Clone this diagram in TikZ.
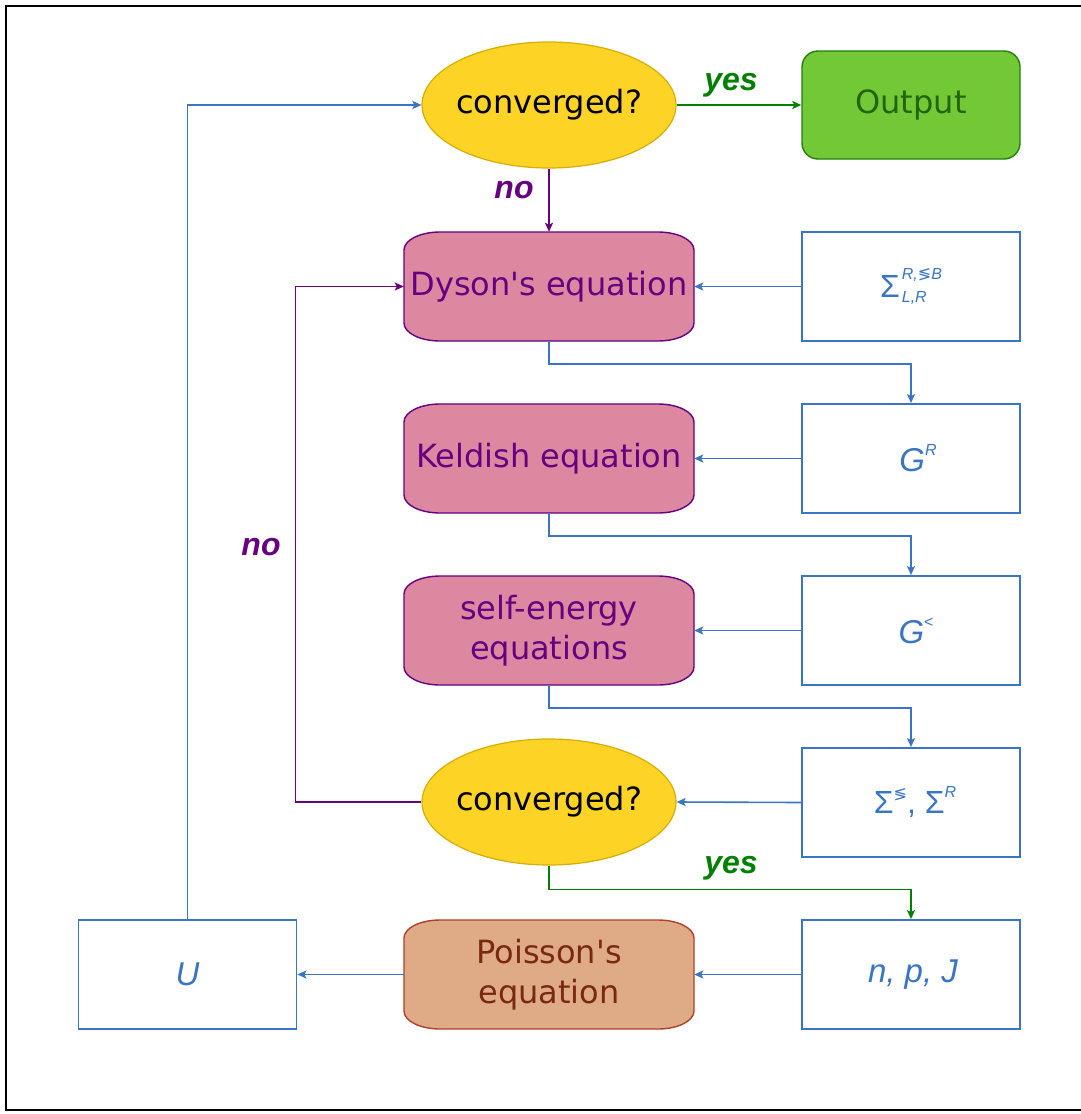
\documentclass[tikz,border=0pt]{standalone}
\usepackage{fontspec}
\setmainfont{DejaVu Sans}
\newfontfamily\arialf{Liberation Sans}
\newfontfamily\djv{DejaVu Sans}
\usetikzlibrary{shapes.geometric,arrows.meta}
\definecolor{blueC}{RGB}{58,117,196}
\definecolor{purpleC}{RGB}{102,0,128}
\definecolor{pinkF}{RGB}{220,136,161}
\definecolor{yellowF}{RGB}{253,212,38}
\definecolor{yellowB}{RGB}{214,174,0}
\definecolor{greenF}{RGB}{114,201,53}
\definecolor{greenB}{RGB}{30,130,10}
\definecolor{greenT}{RGB}{35,100,15}
\definecolor{yesG}{RGB}{0,128,0}
\definecolor{tanF}{RGB}{223,171,134}
\definecolor{tanB}{RGB}{174,65,40}
\definecolor{tanT}{RGB}{122,40,20}
\newcommand\softshape[2]{%
  \draw[#1,shift={#2}] (-145,36.5) arc[start angle=180,end angle=90,x radius=36,y radius=18]
    -- (109,54.5) arc[start angle=90,end angle=0,x radius=36,y radius=18]
    -- (145,-36.5) arc[start angle=0,end angle=-90,x radius=36,y radius=18]
    -- (-109,-54.5) arc[start angle=270,end angle=180,x radius=36,y radius=18] -- cycle;}
\newcommand\smallf{\fontsize{16}{16}\selectfont}
\begin{document}
\begin{tikzpicture}[x=1pt,y=1pt,
  bluebox/.style={draw=blueC, line width=1.8pt, fill=white, minimum width=218, minimum height=109,
     inner sep=0, font=\arialf\fontsize{33}{40}\selectfont, text=blueC},
  softnode/.style={minimum width=290, minimum height=109, inner sep=0, align=center,
     font=\fontsize{32}{40}\selectfont},
  decide/.style={ellipse, draw=yellowB, fill=yellowF, line width=1.2pt, minimum width=254,
     minimum height=126, inner sep=0, font=\fontsize{32}{40}\selectfont, text=black},
  arr/.style={-{Stealth[length=9pt,width=8pt,inset=2pt]}, line width=1.6pt},
  lbl/.style={font=\arialf\bfseries\itshape\fontsize{32}{38}\selectfont}]
\useasboundingbox (0,0) rectangle (1081,-1114);
\fill[white] (0,0) rectangle (1081,-1114);
\draw[line width=2pt,black] (1090,-6) -- (6,-6) -- (6,-1110) -- (1090,-1110);

% decision nodes
\node[decide] (top) at (549,-105) {\makebox[0pt]{converged?}};
\node[decide] (bot) at (549,-802) {\makebox[0pt]{converged?}};

% output
\node[draw=greenB, fill=greenF, line width=1.4pt, rounded corners=16, minimum width=218,
  minimum height=108, inner sep=0, text=greenT, font=\fontsize{32}{40}\selectfont] (out) at (911,-105) {Output};

% soft boxes
\softshape{draw=purpleC,fill=pinkF,line width=1.4pt}{(549,-286.5)}
\node[softnode,text=purpleC] (dyson) at (549,-286.5) {Dyson\textquotesingle s equation};
\softshape{draw=purpleC,fill=pinkF,line width=1.4pt}{(549,-458.5)}
\node[softnode,text=purpleC] (keld) at (549,-458.5) {Keldish equation};
\softshape{draw=purpleC,fill=pinkF,line width=1.4pt}{(549,-630.5)}
\node[softnode,text=purpleC] (self) at (549,-630.5) {self-energy\\equations};
\softshape{draw=tanB,fill=tanF,line width=1.4pt}{(549,-974.5)}
\node[softnode,text=tanT] (poi) at (549,-974.5) {Poisson\textquotesingle s\\equation};

% blue boxes
\node[bluebox] (sig1) at (911,-286.5) {\fontsize{32}{40}\selectfont Σ\hspace{2pt}\raisebox{-5pt}{\fontsize{16}{23}\selectfont\itshape\begin{tabular}[b]{@{}l@{}}R,{\djv ≶}B\\L,R\end{tabular}}};
\node[bluebox] (gr) at (911,-458.5) {\hspace{14pt}\itshape G\raisebox{16pt}{\smallf R}};
\node[bluebox] (gl) at (911,-630.5) {\hspace{10pt}\itshape G\raisebox{16pt}{\smallf\upshape <}};
\node[bluebox] (sig2) at (911,-802.5) {\fontsize{32}{40}\selectfont\hspace{8pt}Σ\raisebox{14pt}{\smallf\djv ≶}, Σ\raisebox{16pt}{\smallf\itshape R}};
\node[bluebox] (npj) at (911,-974.5) {\hspace{4pt}\itshape n, p, J};
\node[bluebox] (U) at (187.5,-974.5) {\itshape U};

% labels
\node[lbl,text=yesG] (yes1) at (731,-85) {yes};
\node[lbl,text=purpleC] (no1) at (514,-190) {no};
\node[lbl,text=purpleC] (no2) at (261,-547) {no};
\node[lbl,text=yesG] (yes2) at (731,-868) {yes};

% connectors
\draw[arr,yesG] (top.east) -- (out.west);
\draw[arr,purpleC] (top.south) -- (dyson.north);
\draw[arr,blueC] (sig1.west) -- (dyson.east);
\draw[arr,blueC] (dyson.south) -- ++(0,-23) -| (gr.north);
\draw[arr,blueC] (gr.west) -- (keld.east);
\draw[arr,blueC] (keld.south) -- ++(0,-23) -| (gl.north);
\draw[arr,blueC] (gl.west) -- (self.east);
\draw[arr,blueC] (self.south) -- ++(0,-23) -| (sig2.north);
\draw[arr,blueC] (sig2.west) -- (bot.east);
\draw[arr,purpleC] (bot.west) -- ++(-126,0) coordinate (lc) |- (dyson.west);
\draw[arr,yesG] (bot.south) -- ++(0,-24) coordinate (yc) -| (npj.north);
\draw[arr,blueC] (npj.west) -- (poi.east);
\draw[arr,blueC] (poi.west) -- (U.east);
\draw[arr,blueC] (U.north) |- (top.west);
\end{tikzpicture}
\end{document}
